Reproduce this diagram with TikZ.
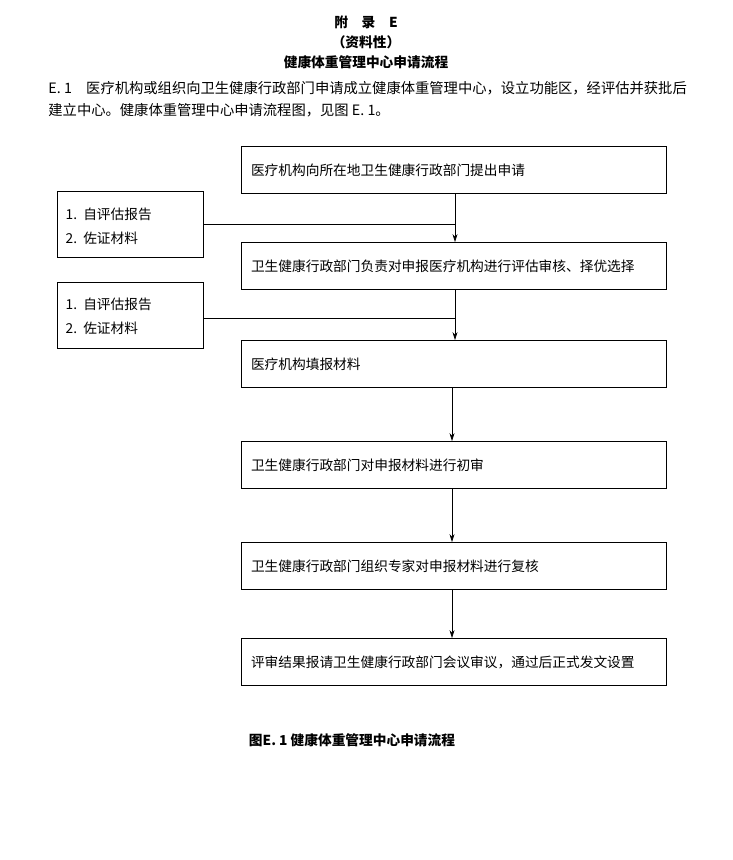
\documentclass[tikz,border=0pt]{standalone}
\usepackage{fontspec}
\setmainfont{Noto Sans CJK SC}
\usetikzlibrary{arrows.meta}
\begin{document}
\begin{tikzpicture}[x=1pt, y=-1pt, thick, font=\fontsize{13.7}{16}\selectfont,
    stepbox/.style={draw, rectangle, line width=0.8pt, minimum width=425pt, minimum height=47pt, text width=405pt, align=left, inner sep=0pt},
    sidebox/.style={draw, rectangle, line width=0.8pt, minimum width=146pt, minimum height=66pt, inner sep=0pt},
    link/.style={line width=0.8pt},
    arr/.style={link, -{Stealth[length=8pt, width=5pt]}}]
    \useasboundingbox (0,0) rectangle (732,860);
    \node (t1) at (366,22) {\textbf{附\quad 录\quad E}};
    \node (t2) at (366,42) {\textbf{（资料性）}};
    \node (t3) at (366,62) {\textbf{健康体重管理中心申请流程}};
    \node[anchor=west, inner sep=0pt] (p1) at (48,88) {\fontsize{14.3}{16}\selectfont E. 1\quad 医疗机构或组织向卫生健康行政部门申请成立健康体重管理中心，设立功能区，经评估并获批后};
    \node[anchor=west, inner sep=0pt] (p2) at (48,110) {\fontsize{14.3}{16}\selectfont 建立中心。健康体重管理中心申请流程图，见图 E. 1。};

    \node[stepbox] (apply) at (453.5,170) {医疗机构向所在地卫生健康行政部门提出申请};
    \node[stepbox] (review) at (453.5,266) {卫生健康行政部门负责对申报医疗机构进行评估审核、择优选择};
    \node[stepbox] (fill) at (453.5,364) {医疗机构填报材料};
    \node[stepbox] (first) at (453.5,465) {卫生健康行政部门对申报材料进行初审};
    \node[stepbox] (recheck) at (453.5,566) {卫生健康行政部门组织专家对申报材料进行复核};
    \node[stepbox] (final) at (453.5,662) {评审结果报请卫生健康行政部门会议审议，通过后正式发文设置};

    \node[sidebox] (docsa) at (130,224) {};
    \node[anchor=west, align=left] (docsatext) at (62,226) {1.\ \ 自评估报告\\[8pt]2.\ \ 佐证材料};
    \node[sidebox] (docsb) at (130,315) {};
    \node[anchor=west, align=left] (docsbtext) at (62,316) {1.\ \ 自评估报告\\[8pt]2.\ \ 佐证材料};

    \coordinate (ja) at (455,224);
    \coordinate (jb) at (455,318);
    \draw[link] (docsa.east |- ja) -- (ja);
    \draw[link] (docsb.east |- jb) -- (jb);
    \draw[arr] (apply.south -| ja) -- (review.north -| ja);
    \draw[arr] (review.south -| jb) -- (fill.north -| jb);
    \draw[arr] ([xshift=-1.5pt]fill.south) -- ([xshift=-1.5pt]first.north);
    \draw[arr] ([xshift=-1.5pt]first.south) -- ([xshift=-1.5pt]recheck.north);
    \draw[arr] ([xshift=-1.5pt]recheck.south) -- ([xshift=-1.5pt]final.north);

    \node (cap) at (352,740) {\textbf{图E. 1 健康体重管理中心申请流程}};
\end{tikzpicture}
\end{document}
